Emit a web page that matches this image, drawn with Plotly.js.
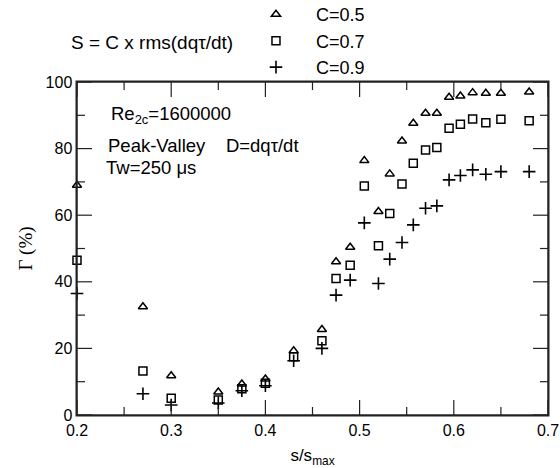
<!DOCTYPE html>
<html>
<head>
<meta charset="utf-8">
<script src="https://cdn.plot.ly/plotly-3.0.1.min.js"></script>
<style>
html,body{margin:0;padding:0;background:#fff;}
#chart{width:560px;height:468px;}
#chart svg path, #chart svg line, #chart svg rect { shape-rendering: geometricPrecision !important; vector-effect: none !important; }
</style>
</head>
<body>
<div id="chart"></div>
<script>
const sRatio = [0.2, 0.27, 0.3, 0.35, 0.375, 0.4, 0.43, 0.46, 0.475, 0.49, 0.505, 0.52, 0.532, 0.545, 0.557, 0.57, 0.582, 0.595, 0.607, 0.62, 0.634, 0.65, 0.68];
const gammaC05 = [69, 32.5, 11.8, 6.9, 9.3, 10.8, 19.3, 25.7, 46.0, 50.4, 76.4, 61.1, 72.4, 82.3, 87.6, 90.6, 90.6, 95.4, 95.8, 96.8, 96.6, 96.6, 97.0];
const gammaC07 = [46.5, 13.2, 5.0, 4.5, 7.9, 9.5, 17.5, 22.3, 41.0, 45.0, 68.8, 50.8, 60.5, 69.4, 75.6, 79.6, 80.3, 86.1, 87.3, 88.9, 87.8, 88.8, 88.4];
const gammaC09 = [36.5, 6.4, 3.0, 3.6, 7.3, 8.8, 16.3, 20.0, 36.0, 40.5, 57.7, 39.5, 46.8, 51.8, 57.1, 62.1, 62.8, 70.6, 71.9, 73.6, 72.3, 73.1, 73.1];
const seriesNames = ['C=0.5', 'C=0.7', 'C=0.9'];
const xMajorTicks = [0.2, 0.3, 0.4, 0.5, 0.6, 0.7];
const xMinorTicks = [0.25, 0.35, 0.45, 0.55, 0.65];
const yMajorTicks = [0, 20, 40, 60, 80, 100];
const yMinorTicks = [10, 30, 50, 70, 90];
const xRange = [0.2, 0.7];
const yRange = [0, 100];

const FONT = 'Arial, "Liberation Sans", sans-serif';
const INK = '#222';
const pad = '\u00a0\u00a0\u00a0\u00a0';
const traces = [
  {x: sRatio, y: gammaC05, name: pad + seriesNames[0], type: 'scatter', mode: 'markers',
   marker: {symbol: 'triangle-up-open', size: 8, color: '#000', line: {width: 1.5, color: '#000'}}, cliponaxis: false},
  {x: sRatio, y: gammaC07, name: pad + seriesNames[1], type: 'scatter', mode: 'markers',
   marker: {symbol: 'square-open', size: 8, color: '#000', line: {width: 1.5, color: '#000'}}, cliponaxis: false},
  {x: sRatio, y: gammaC09, name: pad + seriesNames[2], type: 'scatter', mode: 'markers',
   marker: {symbol: 'cross-thin-open', size: 9, color: '#000', line: {width: 1.6, color: '#000'}}, cliponaxis: false}
];

// axis frame and inside ticks (drawn as layout shapes, positioned by the axes)
const shapes = [{type: 'rect', xref: 'paper', yref: 'paper', x0: 0, x1: 1, y0: 0, y1: 1,
                 line: {color: INK, width: 1.5}, fillcolor: 'rgba(0,0,0,0)', layer: 'above'}];
function xTick(v, len) {
  [[0, 1], [1, -1]].forEach(function (p) {
    shapes.push({type: 'line', xref: 'x', yref: 'paper', ysizemode: 'pixel', yanchor: p[0],
                 x0: v, x1: v, y0: 0, y1: p[1] * len, line: {color: INK, width: 1.2}, layer: 'above'});
  });
}
function yTick(v, len) {
  [[0, 1], [1, -1]].forEach(function (p) {
    shapes.push({type: 'line', xref: 'paper', yref: 'y', xsizemode: 'pixel', xanchor: p[0],
                 y0: v, y1: v, x0: 0, x1: p[1] * len, line: {color: INK, width: 1.2}, layer: 'above'});
  });
}
xMajorTicks.forEach(function (v) { xTick(v, 15); });
xMinorTicks.forEach(function (v) { xTick(v, 8); });
yMajorTicks.forEach(function (v) { yTick(v, 15); });
yMinorTicks.forEach(function (v) { yTick(v, 8); });

const axisCommon = {
  showline: true, linecolor: INK, linewidth: 1.5, mirror: true,
  ticks: '', showgrid: false, zeroline: false,
  tickfont: {family: FONT, size: 16, color: '#000'}
};

const layout = {
  width: 560, height: 468,
  paper_bgcolor: '#fff', plot_bgcolor: '#fff',
  margin: {l: 77, r: 12, t: 82, b: 53, autoexpand: false},
  showlegend: true,
  legend: {x: 0.38, xanchor: 'left', y: 1.258, yanchor: 'top', bgcolor: 'rgba(0,0,0,0)',
           font: {family: FONT, size: 18, color: '#000'}, itemwidth: 30, tracegroupgap: 0},
  xaxis: Object.assign({}, axisCommon, {
    range: xRange, tickmode: 'array', tickvals: xMajorTicks, ticktext: xMajorTicks.map(String),
    title: {text: 's/s<sub>max</sub>', font: {family: FONT, size: 17, color: '#000'}, standoff: 14}
  }),
  yaxis: Object.assign({}, axisCommon, {
    range: yRange, tickmode: 'array', tickvals: yMajorTicks, ticktext: yMajorTicks.map(String),
    title: {text: 'Γ (%)', font: {family: '"Liberation Serif", "Times New Roman", serif', size: 19, color: '#000'}, standoff: 8}
  }),
  shapes: shapes,
  annotations: [
    {xref: 'paper', yref: 'paper', x: -0.018, y: 1.12, xanchor: 'left', yanchor: 'middle', showarrow: false,
     text: 'S = C x rms(dqτ/dt)', font: {family: FONT, size: 19, color: '#000'}},
    {xref: 'paper', yref: 'paper', x: 0.068, y: 0.90, xanchor: 'left', yanchor: 'middle', showarrow: false,
     text: 'Re<sub>2c</sub>=1600000', font: {family: FONT, size: 18.5, color: '#000'}},
    {xref: 'paper', yref: 'paper', x: 0.062, y: 0.808, xanchor: 'left', yanchor: 'middle', showarrow: false,
     text: 'Peak-Valley    D=dqτ/dt', font: {family: FONT, size: 18.5, color: '#000'}},
    {xref: 'paper', yref: 'paper', x: 0.058, y: 0.742, xanchor: 'left', yanchor: 'middle', showarrow: false,
     text: 'Tw=250 μs', font: {family: FONT, size: 18.5, color: '#000'}}
  ]
};

Plotly.newPlot('chart', traces, layout, {displayModeBar: false, staticPlot: true});
</script>
</body>
</html>
